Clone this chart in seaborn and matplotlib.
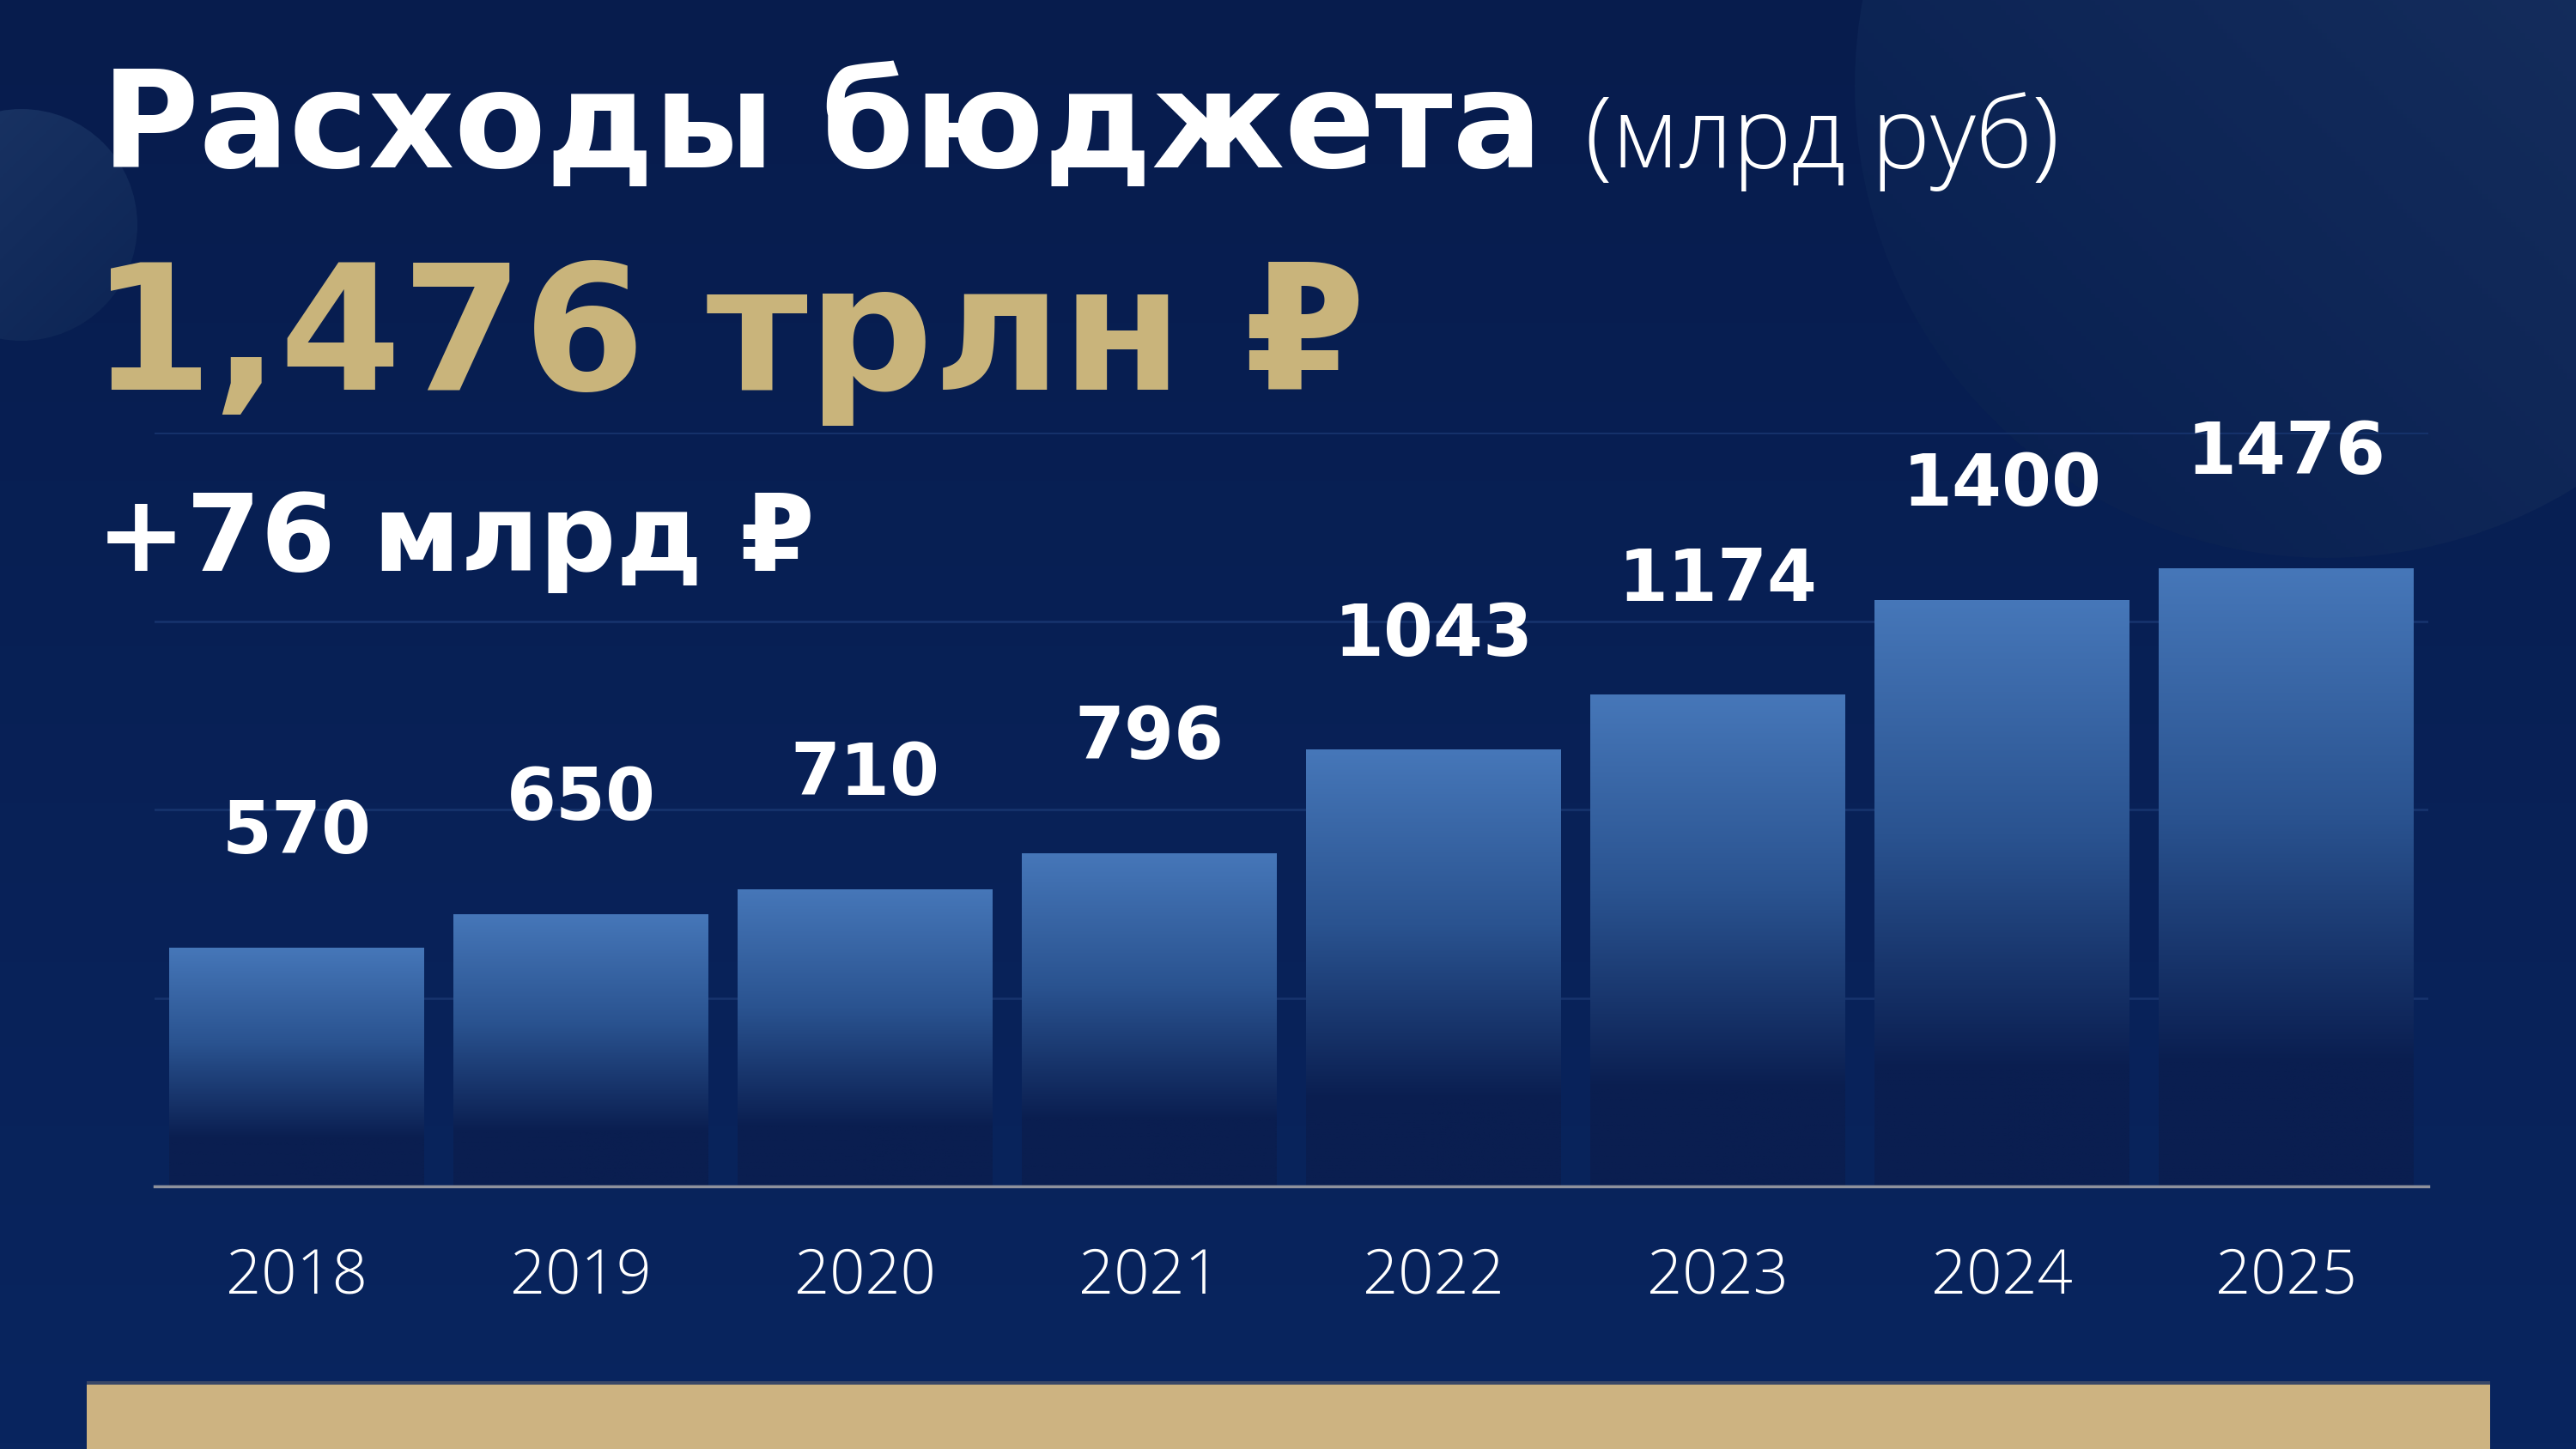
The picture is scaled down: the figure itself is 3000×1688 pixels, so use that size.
import numpy as np
import pandas as pd
import matplotlib
matplotlib.use("Agg")
import matplotlib.pyplot as plt
import seaborn as sns
from matplotlib.patches import Circle, Rectangle
from matplotlib.colors import LinearSegmentedColormap

# data
years = ["2018", "2019", "2020", "2021", "2022", "2023", "2024", "2025"]
spend = [570, 650, 710, 796, 1043, 1174, 1400, 1476]
grid_vals = [0, 450, 900, 1350, 1800]

title = "Расходы бюджета"
unit = "(млрд руб)"
total_txt = "1,476 трлн ₽"
delta_txt = "+76 млрд ₽"

# colours
bg_top = "#071c4d"
bg_bot = "#09255f"
gold = "#c9b47b"
bar_light = "#4677b9"
bar_dark = "#0a1e50"

sns.set_theme(style="white")
plt.rcParams["font.family"] = ["DejaVu Sans"]

W, H = 3000, 1688
fig = plt.figure(figsize=(W / 100, H / 100), dpi=100)

# background in pixel coordinates
bg = fig.add_axes([0, 0, 1, 1], zorder=-10)
bg.set_xlim(0, W)
bg.set_ylim(H, 0)
bg.axis("off")
grad = np.linspace(0, 1, 256).reshape(-1, 1)
bg_cmap = LinearSegmentedColormap.from_list("bg", [bg_top, bg_bot])
bg.imshow(grad, cmap=bg_cmap, extent=[0, W, H, 0], aspect="auto", zorder=0)

# faint decorative circles
diag = np.add.outer(np.linspace(1, 0, 200), np.linspace(0, 1, 200)) / 2
c1 = Circle((2710, 100), 550, facecolor="none", edgecolor="none")
bg.add_patch(c1)
im1 = bg.imshow(diag, cmap=LinearSegmentedColormap.from_list("c1", ["#071e4f", "#1a3362"]),
                extent=[2160, 3260, 650, -450], aspect="auto", zorder=1)
im1.set_clip_path(c1)
c2 = Circle((25, 262), 135, facecolor="none", edgecolor="none")
bg.add_patch(c2)
im2 = bg.imshow(diag[:, ::-1], cmap=LinearSegmentedColormap.from_list("c2", ["#0c2454", "#1b3565"]),
                extent=[-110, 160, 397, 127], aspect="auto", zorder=1)
im2.set_clip_path(c2)

# gold strip at the bottom
bg.add_patch(Rectangle((101, 1609), 2799, 6, color="#5a5f6e", alpha=0.6, lw=0, zorder=2))
bg.add_patch(Rectangle((101, 1613), 2799, 80, color="#cdb381", lw=0, zorder=3))

# chart axes
ax = fig.add_axes([180 / W, 1 - 1382 / H, 2648 / W, (1382 - 504) / H])
ax.set_facecolor("none")
df = pd.DataFrame({"year": years, "spend": spend})
sns.barplot(data=df, x="year", y="spend", ax=ax, color=bar_dark, width=0.897,
            saturation=1, edgecolor="none", zorder=3)

bar_cmap = LinearSegmentedColormap.from_list(
    "bar", [(0, bar_light), (0.4, "#2a5390"), (0.8, bar_dark), (1, bar_dark)])
for p in ax.patches:
    x0, w, h = p.get_x(), p.get_width(), p.get_height()
    im = ax.imshow(grad, cmap=bar_cmap, extent=[x0, x0 + w, 0, h],
                   aspect="auto", origin="upper", zorder=4)
    im.set_clip_path(p)

for i, v in enumerate(spend):
    ax.annotate(str(v), (i, v), xytext=(0, 79), textcoords="offset points",
                ha="center", va="baseline", fontsize=60, fontweight="bold",
                color="white", annotation_clip=False)

ax.set_xlim(-0.5, len(years) - 0.5)
ax.set_ylim(0, 1800)
ax.set_yticks(grid_vals)
ax.set_yticklabels([])
ax.grid(axis="y", color="#17346e", lw=1.8, zorder=0)
ax.grid(axis="x", visible=False)
ax.set_xlabel("")
ax.set_ylabel("")
for s in ["top", "left", "right"]:
    ax.spines[s].set_visible(False)
ax.spines["bottom"].set_color("#8e919c")
ax.spines["bottom"].set_linewidth(2.5)
ax.spines["bottom"].set_zorder(6)
ax.tick_params(axis="x", length=0, pad=50, labelsize=52, labelcolor="white")
ax.tick_params(axis="y", length=0)
for t in ax.get_xticklabels():
    t.set_fontfamily(["Open Sans", "DejaVu Sans"])
    t.set_fontweight("light")

# headline texts
def put(x, y, s, **kw):
    fig.text(x / W, 1 - y / H, s, va="baseline", ha="left", **kw)

put(118, 195, title, fontsize=112, fontweight="bold", color="white")
put(1846, 195, unit, fontsize=83, fontweight="light", color="white",
    family=["Open Sans", "DejaVu Sans"])
put(106, 454, total_txt, fontsize=147, fontweight="bold", color=gold)
put(112, 665, delta_txt, fontsize=90, fontweight="bold", color="white")

fig.savefig("out.png", dpi=100)
